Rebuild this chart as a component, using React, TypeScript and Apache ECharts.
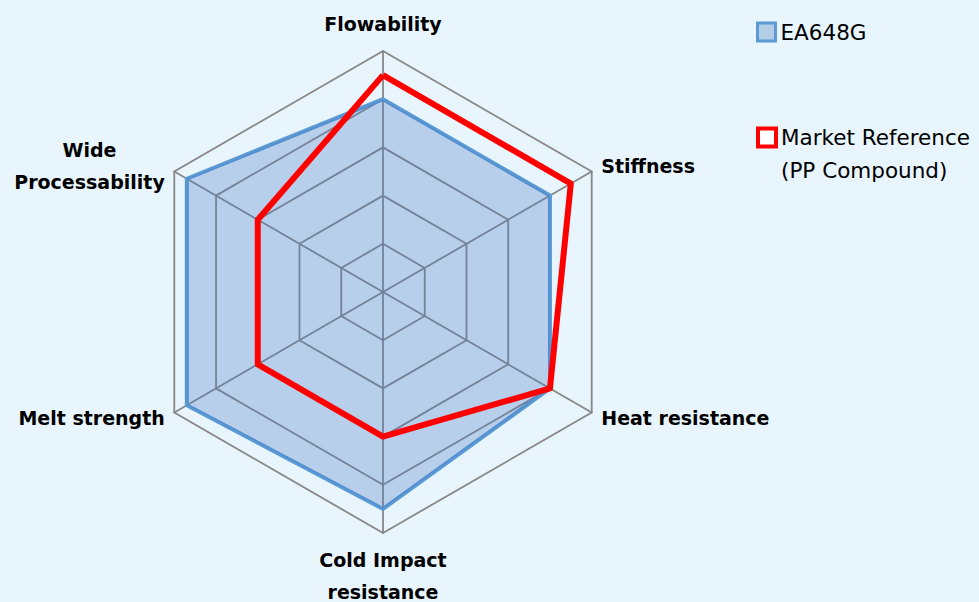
import React, { useEffect, useRef } from "react";
import * as echarts from "echarts";

// Indicators listed in ECharts' drawing order (counter-clockwise from the top)
const indicatorNames = [
  "Flowability",
  "Wide\nProcessability",
  "Melt strength",
  "Cold Impact\nresistance",
  "Heat resistance",
  "Stiffness",
];
const indicatorMax = [5, 5, 5, 5, 5, 5];

const seriesNames = ["EA648G", "Market Reference (PP Compound)"];
const ea648gValues = [4, 4.7, 4.7, 4.5, 4, 4];
const marketValues = [4.5, 3, 3, 3, 4, 4.5];

const FONT = "DejaVu Sans";

export default function App() {
  const ref = useRef<HTMLDivElement>(null);
  useEffect(() => {
    if (!ref.current) return;
    const chart = echarts.init(ref.current, undefined, { renderer: "svg" });
    const labelFont = {
      fontFamily: FONT,
      fontWeight: "bold" as const,
      fontSize: 19,
      color: "#000",
      lineHeight: 32,
    };
    chart.setOption({
      animation: false,
      backgroundColor: "#E8F5FC",
      legend: [
        {
          data: [
            {
              name: seriesNames[0],
              icon: "rect",
              itemStyle: { color: "#B4CDE6", borderColor: "#5B9BD5", borderWidth: 3 },
            },
          ],
          left: 756,
          top: 15.5,
          padding: 0,
          itemWidth: 18,
          itemHeight: 18,
          selectedMode: false,
          textStyle: { fontFamily: FONT, fontSize: 21.5, color: "#000", lineHeight: 33 },
        },
        {
          data: [
            {
              name: seriesNames[1],
              icon: "rect",
              itemStyle: { color: "#FFFFFF", borderColor: "#FF0000", borderWidth: 4 },
            },
          ],
          left: 756,
          top: 88,
          padding: 0,
          itemWidth: 18,
          itemHeight: 18,
          selectedMode: false,
          formatter: () => " \nMarket Reference\n(PP Compound)",
          textStyle: { fontFamily: FONT, fontSize: 21.5, color: "#000", lineHeight: 33 },
        },
      ],
      radar: {
        center: [383, 292],
        radius: 241,
        startAngle: 90,
        shape: "polygon",
        splitNumber: 5,
        nameGap: 11,
        indicator: indicatorNames.map((name, i) => ({ name, max: indicatorMax[i], min: 0 })),
        axisName: {
          formatter: (name: string) =>
            name
              .split("\n")
              .map((l) => `{c|${l}}`)
              .join("\n"),
          rich: { c: { ...labelFont, align: "center" } },
          ...labelFont,
        },
        axisLine: { lineStyle: { color: "#878787", width: 1.8 } },
        splitLine: { lineStyle: { color: "#878787", width: 1.8 } },
        splitArea: { show: false },
        axisTick: { show: false },
        axisLabel: { show: false },
      },
      series: [
        {
          type: "radar",
          symbol: "none",
          data: [
            {
              name: seriesNames[0],
              value: ea648gValues,
              lineStyle: { color: "#5B9BD5", width: 4 },
              itemStyle: { color: "#5B9BD5" },
              areaStyle: { color: "rgb(70,120,195)", opacity: 0.3 },
            },
            {
              name: seriesNames[1],
              value: marketValues,
              lineStyle: { color: "#FF0000", width: 6 },
              itemStyle: { color: "#FF0000" },
            },
          ],
        },
      ],
    });
    return () => chart.dispose();
  }, []);
  return (
    <div
      ref={ref}
      style={{ position: "fixed", left: 0, top: 0, width: 979, height: 602 }}
    />
  );
}
